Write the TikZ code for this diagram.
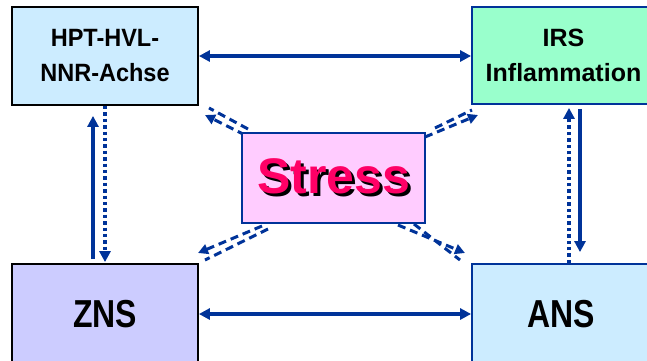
\documentclass[tikz,border=0pt]{standalone}
\usepackage{fontspec}
\setmainfont{Liberation Sans}
\usetikzlibrary{arrows.meta}
\definecolor{arrblue}{HTML}{003399}
\definecolor{hptfill}{HTML}{CCECFF}
\definecolor{irsfill}{HTML}{99FFCC}
\definecolor{znsfill}{HTML}{CCCCFF}
\definecolor{stressfill}{HTML}{FFCCFF}
\definecolor{stresstext}{HTML}{FF0066}
\newcommand{\narrowtxt}[1]{\scalebox{0.82}[1]{#1}}
\tikzset{
  box/.style={rectangle, inner sep=0pt, line width=1.8pt, font=\bfseries},
  smalltxt/.style={font=\bfseries\fontsize{25}{35}\selectfont, align=center},
  bigtxt/.style={font=\bfseries\fontsize{39}{42}\selectfont},
  arr/.style={draw=arrblue, line width=3.4pt, -{Triangle[length=11pt,width=11pt]}},
  dblarr/.style={draw=arrblue, line width=3.4pt, {Triangle[length=11pt,width=11pt]}-{Triangle[length=11pt,width=11pt]}},
  dotarr/.style={arr, dash pattern=on 3.4pt off 3pt},
  dasharr/.style={draw=arrblue, line width=3pt, dash pattern=on 8pt off 5pt, -{Triangle[length=10pt,width=10pt]}},
  dashln/.style={draw=arrblue, line width=3pt, dash pattern=on 8pt off 5pt}
}
\begin{document}
\begin{tikzpicture}[x=1pt,y=-1pt]
\clip (0,0) rectangle (647,360);
\fill[white] (0,0) rectangle (647,360);
% boxes
\node[box, draw=black, fill=hptfill, minimum width=186pt, minimum height=98pt, smalltxt] (hpt) at (105,56) {\scalebox{0.94}[1]{HPT-HVL-}\\\scalebox{0.94}[1]{NNR-Achse}};
\node[box, draw=arrblue, fill=irsfill, minimum width=183pt, minimum height=97pt, smalltxt] (irs) at (563.5,55.5) {IRS\\Inflammation};
\node[box, draw=black, fill=znsfill, minimum width=186pt, minimum height=100pt, bigtxt] (zns) at (105,314) {\narrowtxt{ZNS}};
\node[box, draw=arrblue, fill=hptfill, minimum width=179pt, minimum height=100pt, bigtxt] (ans) at (561.5,314) {\narrowtxt{ANS}};
% diagonal dashed pairs (behind stress box)
\coordinate (tlA1) at (245,135); \coordinate (tlA2) at (205,115);
\coordinate (tlB1) at (248,129); \coordinate (tlB2) at (209,108);
\coordinate (trA1) at (425,137); \coordinate (trA2) at (478,115);
\coordinate (trB1) at (435,128); \coordinate (trB2) at (472,110);
\coordinate (blA1) at (262,226); \coordinate (blA2) at (198,253);
\coordinate (blB1) at (268,229); \coordinate (blB2) at (205,260);
\coordinate (brA1) at (398,225); \coordinate (brA2) at (465,253);
\coordinate (brB1) at (414,224); \coordinate (brB2) at (460,260);
\draw[dasharr] (tlA1) -- (tlA2);
\draw[dashln] (tlB1) -- (tlB2);
\draw[dasharr] (trA1) -- (trA2);
\draw[dashln] (trB1) -- (trB2);
\draw[dasharr] (blA1) -- (blA2);
\draw[dashln] (blB1) -- (blB2);
\draw[dasharr] (brA1) -- (brA2);
\draw[dashln] (brB1) -- (brB2);
% stress
\node[box, draw=arrblue, line width=1.6pt, fill=stressfill, minimum width=183pt, minimum height=90pt,
      font=\bfseries\fontsize{50}{56}\selectfont] (stress) at (333.5,178)
  {\makebox[0pt][l]{\hspace{3pt}\raisebox{-3pt}{\textcolor{black}{Stress}}}\textcolor{stresstext}{Stress}};
% horizontal arrows
\draw[dblarr] (hpt.east) -- (hpt.east -| irs.west);
\draw[dblarr] (zns.east) -- (zns.east -| ans.west);
% left verticals
\coordinate (lx1) at (93,0);
\coordinate (lx2) at (105,0);
\draw[arr] ([yshift=4pt]lx1 |- zns.north) -- ([yshift=-10pt]lx1 |- hpt.south);
\draw[dotarr] (lx2 |- hpt.south) -- ([yshift=1pt]lx2 |- zns.north);
% right verticals
\coordinate (rx1) at (569,0);
\coordinate (rx2) at (580,0);
\draw[dotarr] (rx1 |- ans.north) -- ([yshift=-3pt]rx1 |- irs.south);
\draw[arr] ([yshift=-4pt]rx2 |- irs.south) -- ([yshift=11pt]rx2 |- ans.north);
\end{tikzpicture}
\end{document}
